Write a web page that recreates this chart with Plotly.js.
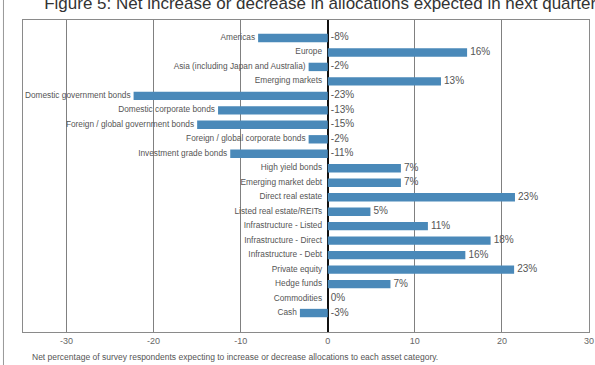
<!DOCTYPE html>
<html>
<head>
<meta charset="utf-8">
<script src="https://cdn.plot.ly/plotly-3.0.1.min.js"></script>
<style>html,body{margin:0;padding:0;background:#fff;}#chart{width:595px;height:365px;}</style>
</head>
<body>
<div id="chart"></div>
<script>
const categories = [
  "Americas", "Europe", "Asia (including Japan and Australia)", "Emerging markets",
  "Domestic government bonds", "Domestic corporate bonds", "Foreign / global government bonds",
  "Foreign / global corporate bonds", "Investment grade bonds", "High yield bonds",
  "Emerging market debt", "Direct real estate", "Listed real estate/REITs",
  "Infrastructure - Listed", "Infrastructure - Direct", "Infrastructure - Debt",
  "Private equity", "Hedge funds", "Commodities", "Cash"
];
// bar lengths as drawn in the picture
const barValues = [-8.0, 16.0, -2.2, 13.0, -22.3, -12.6, -15.0, -2.2, -11.2, 8.4, 8.4, 21.5, 4.9, 11.5, 18.7, 15.8, 21.4, 7.2, 0, -3.2];
// value labels as printed
const valueLabels = ["-8%", "16%", "-2%", "13%", "-23%", "-13%", "-15%", "-2%", "-11%", "7%", "7%", "23%", "5%", "11%", "18%", "16%", "23%", "7%", "0%", "-3%"];
const xTickVals = [-30, -20, -10, 0, 10, 20, 30];
const xTickText = ["-30", "-20", "-10", "0", "10", "20", "30"];
const titleText = "Figure 5: Net increase or decrease in allocations expected in next quarter";
const footnote = "Net percentage of survey respondents expecting to increase or decrease allocations to each asset category.";

const idx = categories.map((c, i) => i);
const font = "Liberation Sans, Arial, sans-serif";

const bars = {
  type: "bar", orientation: "h",
  x: barValues, y: idx,
  width: 0.58,
  marker: {color: "#4a89b9", line: {width: 0}},
  hoverinfo: "none"
};
const catText = {
  type: "scatter", mode: "text",
  x: barValues.map(v => v < 0 ? v - 0.35 : -0.65), y: idx,
  text: categories, textposition: "middle left",
  textfont: {family: font, size: 8.3, color: "#555"},
  hoverinfo: "none"
};
const valText = {
  type: "scatter", mode: "text",
  x: barValues.map(v => Math.max(v, 0) + 0.35), y: idx,
  text: valueLabels, textposition: "middle right",
  textfont: {family: font, size: 10, color: "#555"},
  hoverinfo: "none"
};

const layout = {
  width: 595, height: 365,
  margin: {l: 23, r: 6, t: 20, b: 33},
  paper_bgcolor: "#fff", plot_bgcolor: "#fff",
  showlegend: false,
  title: {
    text: titleText,
    font: {family: font, size: 17, color: "#333"},
    x: 0.525, xanchor: "center", xref: "paper",
    y: 0.993, yref: "container", yanchor: "middle"
  },
  xaxis: {
    range: [-35, 30],
    tickvals: xTickVals, ticktext: xTickText,
    showgrid: true, gridcolor: "#808080", gridwidth: 1,
    zeroline: true, zerolinecolor: "#111", zerolinewidth: 2,
    showline: true, mirror: true, linecolor: "#8a8a8a", linewidth: 1,
    ticks: "", tickfont: {family: font, size: 9, color: "#666"},
    fixedrange: true
  },
  yaxis: {
    range: [20.31, -1.24],
    showticklabels: false, showgrid: false, zeroline: false,
    showline: true, mirror: true, linecolor: "#8a8a8a", linewidth: 1,
    ticks: "", fixedrange: true
  },
  shapes: [{
    type: "line", xref: "paper", yref: "paper",
    x0: -0.0345, x1: -0.0345, y0: -0.2, y1: 1.1,
    line: {color: "#999", width: 1}
  }],
  annotations: [{
    text: footnote, xref: "paper", yref: "paper",
    x: 0.012, y: -0.08, xanchor: "left", yanchor: "middle",
    showarrow: false, font: {family: font, size: 8.5, color: "#555"}
  }]
};

Plotly.newPlot("chart", [bars, catText, valText], layout, {displayModeBar: false, staticPlot: true});
</script>
</body>
</html>
